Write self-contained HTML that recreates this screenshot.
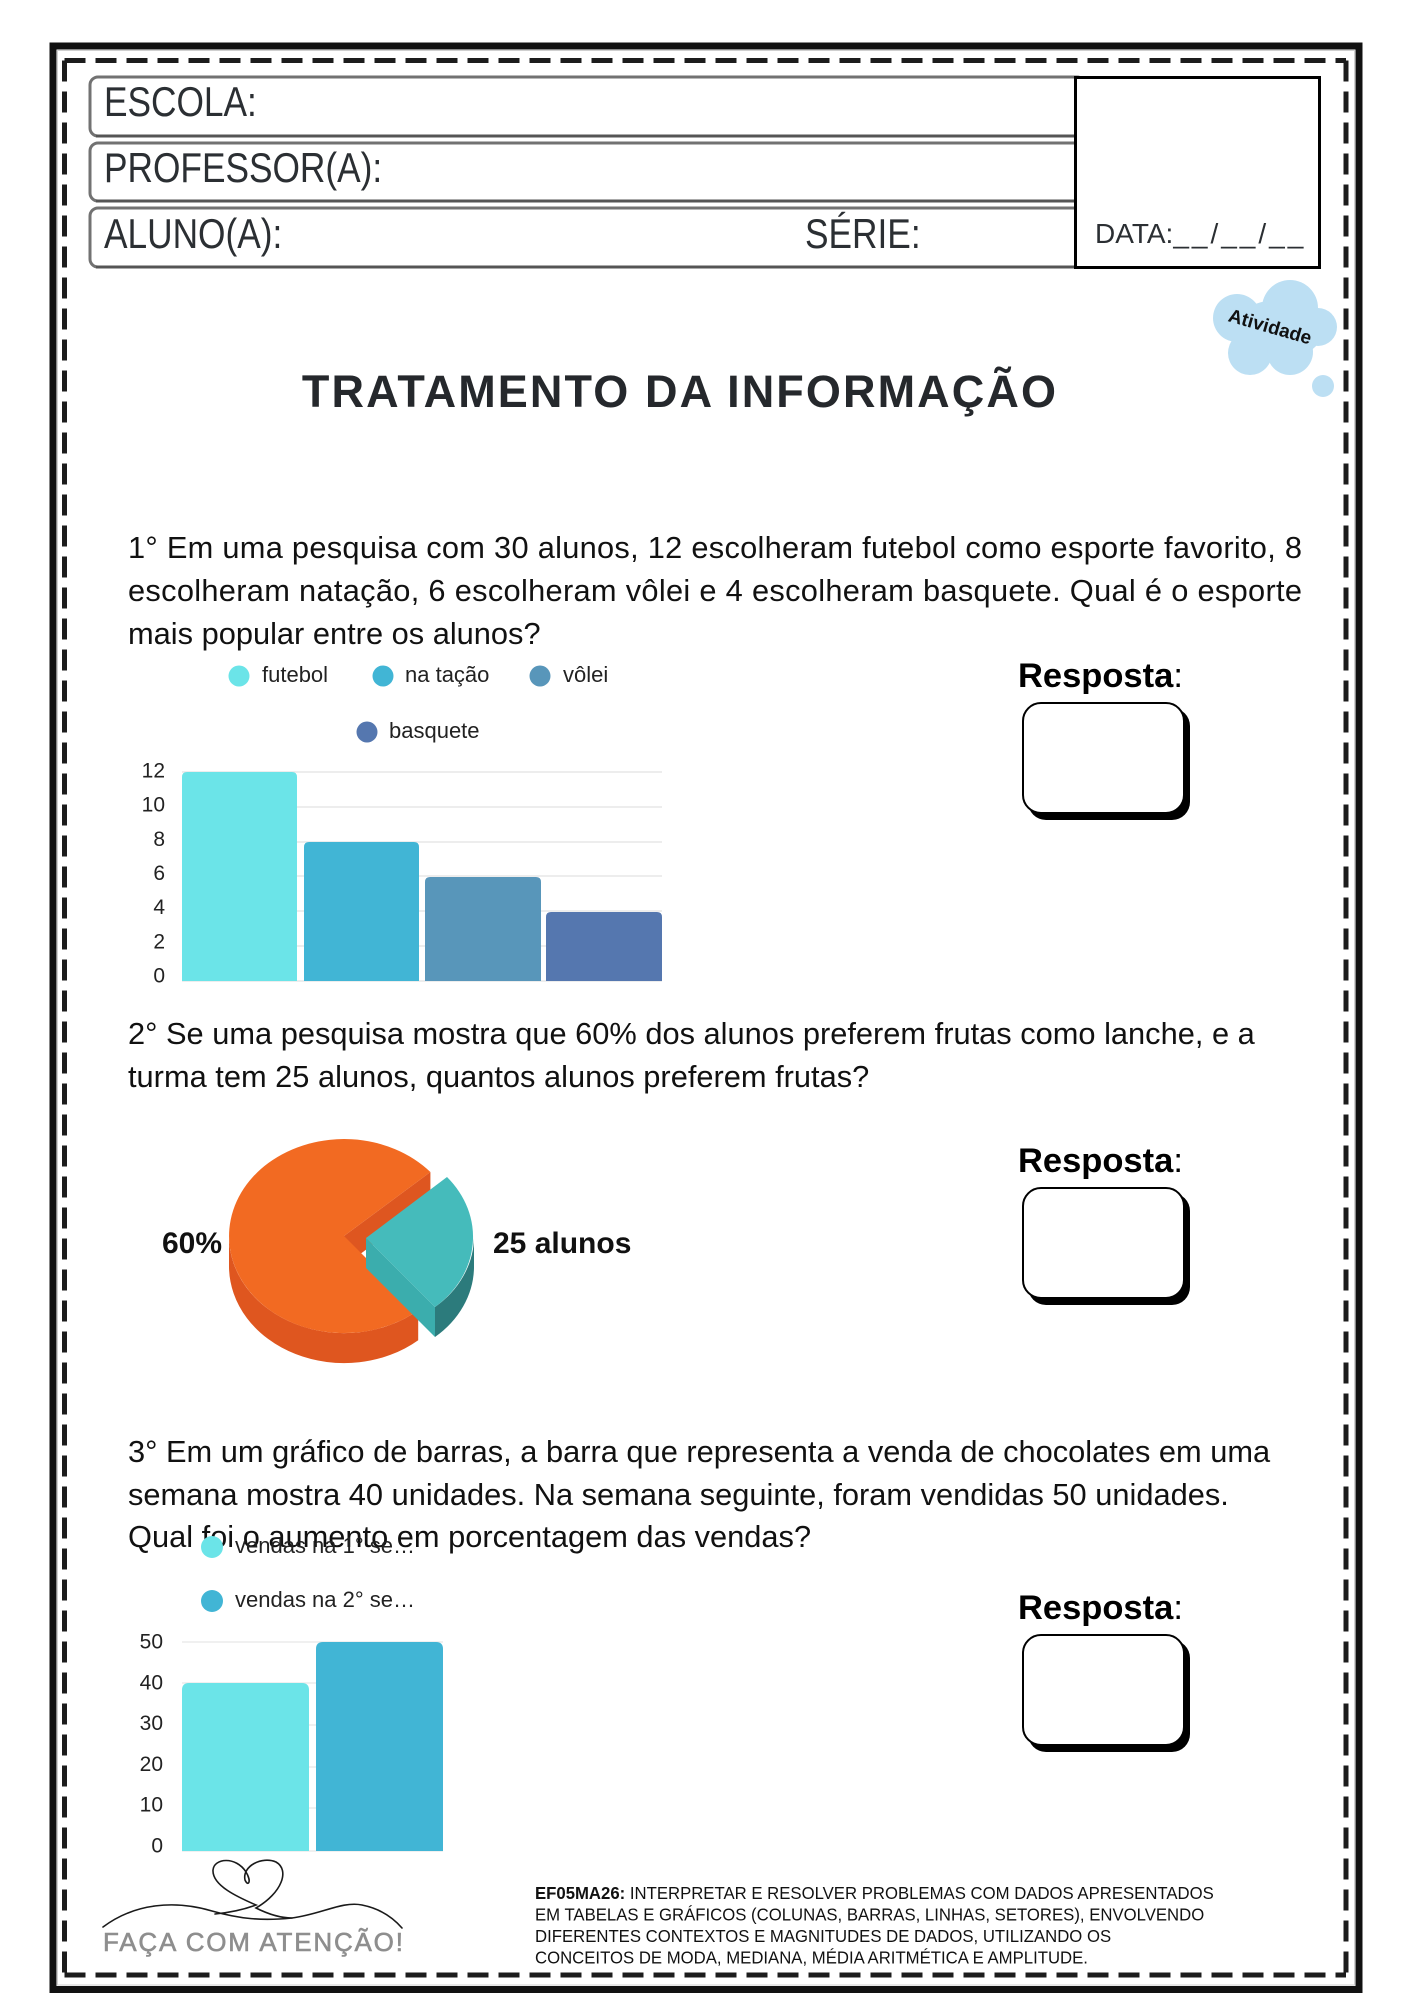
<!DOCTYPE html>
<html>
<head>
<meta charset="utf-8">
<style>
  html,body{margin:0;padding:0;background:#fff;}
  body{width:1414px;height:2000px;overflow:hidden;}
  svg{display:block;}
  text{font-family:"Liberation Sans", Arial, sans-serif;}
</style>
</head>
<body>
<svg width="1414" height="2000" viewBox="0 0 1414 2000" xmlns="http://www.w3.org/2000/svg">
  <!-- Outer frame -->
  <rect x="53" y="46" width="1306" height="1943.5" fill="none" stroke="#111" stroke-width="7"/>
  <rect x="57.5" y="50.5" width="1297" height="1934.5" fill="none" stroke="#cfcfcf" stroke-width="1"/>
  <!-- Dashed inner frame -->
  <g stroke="#1c1c1c" stroke-width="5" stroke-dasharray="21 10" fill="none">
    <line x1="64.5" y1="60.5" x2="1346" y2="60.5"/>
    <line x1="64.5" y1="1975" x2="1346" y2="1975"/>
    <line x1="64.5" y1="60.5" x2="64.5" y2="1975"/>
    <line x1="1346" y1="60.5" x2="1346" y2="1975"/>
  </g>

  <!-- Header boxes -->
  <g fill="#fff" stroke="#727272" stroke-width="3">
    <rect x="90" y="77" width="995" height="59" rx="8"/>
    <rect x="90" y="143" width="995" height="58" rx="8"/>
    <rect x="90" y="208" width="995" height="59" rx="8"/>
  </g>
  <g stroke="#555" stroke-width="3">
    <line x1="96" y1="136" x2="1075" y2="136"/>
    <line x1="96" y1="201" x2="1075" y2="201"/>
    <line x1="96" y1="267" x2="1075" y2="267"/>
  </g>
  <rect x="1075.5" y="77.5" width="244" height="190" fill="#fff" stroke="#000" stroke-width="3"/>

  <g fill="#2b2f33" font-size="42">
    <text transform="translate(104,116) scale(0.84,1)">ESCOLA:</text>
    <text transform="translate(104,182) scale(0.84,1)">PROFESSOR(A):</text>
    <text transform="translate(104,248) scale(0.84,1)">ALUNO(A):</text>
    <text transform="translate(805,248) scale(0.84,1)">SÉRIE:</text>
  </g>
  <text x="1095" y="243" font-size="28" fill="#2b2f33">DATA:<tspan letter-spacing="3">__/__/__</tspan></text>

  <!-- Cloud -->
  <g fill="#bcdff3">
    <ellipse cx="1278" cy="330" rx="45" ry="30"/>
    <circle cx="1290" cy="308" r="28"/>
    <circle cx="1237" cy="318" r="24"/>
    <circle cx="1318" cy="327" r="19"/>
    <circle cx="1250" cy="353" r="22"/>
    <circle cx="1290" cy="352" r="23"/>
    <circle cx="1323" cy="386" r="11"/>
  </g>
  <text x="1270" y="333" font-size="19" font-weight="bold" fill="#111" text-anchor="middle" transform="rotate(16 1270 327)">Atividade</text>

  <!-- Title -->
  <text x="680" y="407" font-size="45" font-weight="bold" fill="#25282c" text-anchor="middle" letter-spacing="2.1">TRATAMENTO DA INFORMAÇÃO</text>

  <!-- Question texts -->
  <g font-size="30.8" fill="#111">
    <text x="128" y="558" textLength="1174" lengthAdjust="spacing">1° Em uma pesquisa com 30 alunos, 12 escolheram futebol como esporte favorito, 8</text>
    <text x="128" y="601" textLength="1174" lengthAdjust="spacing">escolheram natação, 6 escolheram vôlei e 4 escolheram basquete. Qual é o esporte</text>
    <text x="128" y="644">mais popular entre os alunos?</text>

    <text x="128" y="1044">2° Se uma pesquisa mostra que 60% dos alunos preferem frutas como lanche, e a</text>
    <text x="128" y="1087">turma tem 25 alunos, quantos alunos preferem frutas?</text>

    <text x="128" y="1462">3° Em um gráfico de barras, a barra que representa a venda de chocolates em uma</text>
    <text x="128" y="1505">semana mostra 40 unidades. Na semana seguinte, foram vendidas 50 unidades.</text>
    <text x="128" y="1547">Qual foi o aumento em porcentagem das vendas?</text>
  </g>

  <!-- Chart 1 -->
  <g stroke="#e2e2e2" stroke-width="1.3">
    <line x1="182" y1="772" x2="662" y2="772"/>
    <line x1="182" y1="807" x2="662" y2="807"/>
    <line x1="182" y1="842" x2="662" y2="842"/>
    <line x1="182" y1="876" x2="662" y2="876"/>
    <line x1="182" y1="911" x2="662" y2="911"/>
    <line x1="182" y1="946" x2="662" y2="946"/>
    <line x1="182" y1="981" x2="662" y2="981"/>
  </g>
  <path d="M182,981 L182,777 Q182,772 187,772 L292,772 Q297,772 297,777 L297,981 Z" fill="#6be4e8"/>
  <path d="M304,981 L304,847 Q304,842 309,842 L414,842 Q419,842 419,847 L419,981 Z" fill="#41b5d5"/>
  <path d="M425,981 L425,882 Q425,877 430,877 L536,877 Q541,877 541,882 L541,981 Z" fill="#5896ba"/>
  <path d="M546,981 L546,917 Q546,912 551,912 L657,912 Q662,912 662,917 L662,981 Z" fill="#5577af"/>
  <g font-size="21" fill="#222" text-anchor="end">
    <text x="165" y="777.5">12</text>
    <text x="165" y="811.7">10</text>
    <text x="165" y="845.8">8</text>
    <text x="165" y="880">6</text>
    <text x="165" y="914.2">4</text>
    <text x="165" y="948.3">2</text>
    <text x="165" y="982.5">0</text>
  </g>
  <circle cx="239" cy="676" r="10.5" fill="#6be4e8"/>
  <circle cx="383" cy="676" r="10.5" fill="#41b5d5"/>
  <circle cx="540" cy="676" r="10.5" fill="#5896ba"/>
  <circle cx="367" cy="732" r="10.5" fill="#5577af"/>
  <g font-size="22" fill="#222">
    <text x="262" y="682">futebol</text>
    <text x="405" y="682">na tação</text>
    <text x="563" y="682">vôlei</text>
    <text x="389" y="738">basquete</text>
  </g>

  <!-- Resposta blocks -->
  <g font-size="34.5" fill="#000">
    <text x="1018" y="687"><tspan font-weight="bold">Resposta</tspan>:</text>
    <text x="1018" y="1172"><tspan font-weight="bold">Resposta</tspan>:</text>
    <text x="1018" y="1619"><tspan font-weight="bold">Resposta</tspan>:</text>
  </g>
  <g>
    <rect x="1028" y="708" width="162" height="112" rx="18" fill="#000"/>
    <rect x="1023" y="703" width="161" height="110" rx="18" fill="#fff" stroke="#000" stroke-width="2"/>
    <rect x="1028" y="1193" width="162" height="112" rx="18" fill="#000"/>
    <rect x="1023" y="1188" width="161" height="110" rx="18" fill="#fff" stroke="#000" stroke-width="2"/>
    <rect x="1028" y="1640" width="162" height="112" rx="18" fill="#000"/>
    <rect x="1023" y="1635" width="161" height="110" rx="18" fill="#fff" stroke="#000" stroke-width="2"/>
  </g>

  <!-- Pie -->
  <polygon points="344,1236 430.4,1172 430.4,1202 344,1266" fill="#de5620"/>
  <path d="M229,1236 A115,97 0 0 0 418.2,1310.2 L418.2,1340.2 A115,97 0 0 1 229,1266 Z" fill="#df561f"/>
  <path d="M344,1236 L430.4,1172 A115,97 0 1 0 418.2,1310.2 Z" fill="#f26a22"/>
  <polygon points="366,1238 435,1307 435,1337 366,1268" fill="#3badad"/>
  <path d="M474,1238 A108,92 0 0 1 435,1307 L435,1337 A108,92 0 0 0 474,1268 Z" fill="#2c7b7c"/>
  <path d="M366,1238 L447,1177 A108,92 0 0 1 435,1307 Z" fill="#45bbbb"/>
  <text x="162" y="1253" font-size="30" font-weight="bold" fill="#111">60%</text>
  <text x="493" y="1253" font-size="30" font-weight="bold" fill="#111">25 alunos</text>

  <!-- Chart 3 -->
  <g stroke="#e6e6e6" stroke-width="1.3">
    <line x1="182" y1="1642" x2="443" y2="1642"/>
    <line x1="182" y1="1683" x2="443" y2="1683"/>
    <line x1="182" y1="1725" x2="443" y2="1725"/>
    <line x1="182" y1="1767" x2="443" y2="1767"/>
    <line x1="182" y1="1808" x2="443" y2="1808"/>
    <line x1="182" y1="1851" x2="443" y2="1851"/>
  </g>
  <path d="M182,1851 L182,1690 Q182,1683 189,1683 L302,1683 Q309,1683 309,1690 L309,1851 Z" fill="#6be4e8"/>
  <path d="M316,1851 L316,1649 Q316,1642 323,1642 L436,1642 Q443,1642 443,1649 L443,1851 Z" fill="#41b5d5"/>
  <g font-size="21" fill="#222" text-anchor="end">
    <text x="163" y="1648.5">50</text>
    <text x="163" y="1689.3">40</text>
    <text x="163" y="1730.1">30</text>
    <text x="163" y="1770.9">20</text>
    <text x="163" y="1811.7">10</text>
    <text x="163" y="1852.5">0</text>
  </g>
  <circle cx="212" cy="1547" r="11" fill="#6be4e8"/>
  <circle cx="212" cy="1601" r="11" fill="#41b5d5"/>
  <g font-size="22" fill="#222">
    <text x="235" y="1553">vendas na 1° se…</text>
    <text x="235" y="1607">vendas na 2° se…</text>
  </g>

  <!-- Footer doodle -->
  <g fill="none" stroke="#1a1a1a" stroke-width="1.6" stroke-linecap="round">
    <path d="M103,1927 C135,1903 175,1900 212,1911 C240,1919 262,1921 292,1918 C322,1914 342,1901 362,1905 C382,1909 395,1920 402,1928"/>
    <path d="M215,1914 C235,1912 248,1908 256,1905 C240,1898 212,1886 213,1870 C214,1858 236,1856 246,1872 C252,1882 248,1887 245,1880 C242,1866 262,1856 276,1862 C290,1870 282,1893 256,1908 C268,1914 280,1918 292,1918"/>
  </g>
  <text x="103" y="1951" font-size="26" fill="#8e8e8e" letter-spacing="1.8" stroke="#8e8e8e" stroke-width="0.6">FAÇA COM ATENÇÃO!</text>

  <!-- Footer BNCC text -->
  <g font-size="18" fill="#111">
    <text transform="translate(535,1899) scale(0.93,1)"><tspan font-weight="bold">EF05MA26:</tspan> INTERPRETAR E RESOLVER PROBLEMAS COM DADOS APRESENTADOS</text>
    <text transform="translate(535,1920.5) scale(0.93,1)">EM TABELAS E GRÁFICOS (COLUNAS, BARRAS, LINHAS, SETORES), ENVOLVENDO</text>
    <text transform="translate(535,1942) scale(0.93,1)">DIFERENTES CONTEXTOS E MAGNITUDES DE DADOS, UTILIZANDO OS</text>
    <text transform="translate(535,1963.5) scale(0.93,1)">CONCEITOS DE MODA, MEDIANA, MÉDIA ARITMÉTICA E AMPLITUDE.</text>
  </g>
</svg>
</body>
</html>
